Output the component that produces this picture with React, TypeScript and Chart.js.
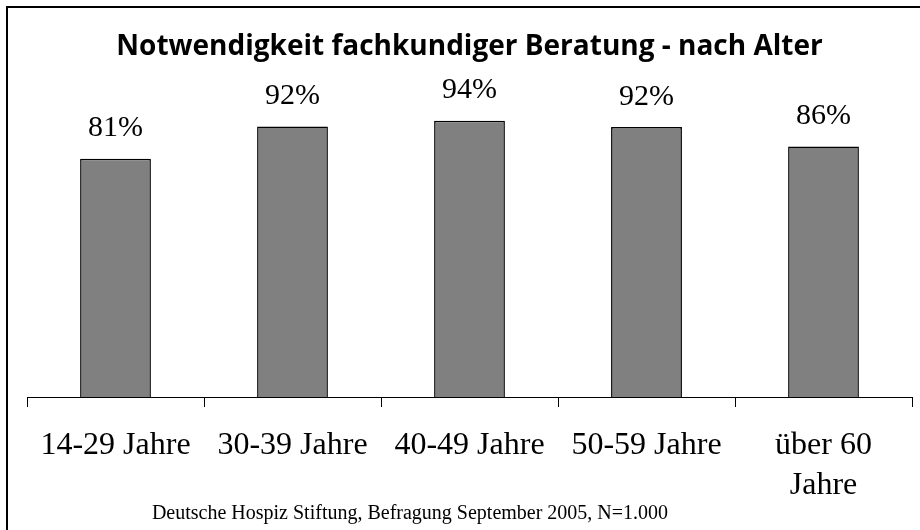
import React, { useEffect, useRef } from "react";
import { Chart, registerables } from "chart.js";

Chart.register(...registerables);

const categories: (string | string[])[] = ["14-29 Jahre", "30-39 Jahre", "40-49 Jahre", "50-59 Jahre", ["über 60", "Jahre"]];
const values: number[] = [81, 92, 94, 91.8, 85.2];
const valueLabels: string[] = ["81%", "92%", "94%", "92%", "86%"];
const titleText = "Notwendigkeit fachkundiger Beratung - nach Alter";
const sourceText = "Deutsche Hospiz Stiftung, Befragung September 2005, N=1.000";

const SERIF = "'Liberation Serif', 'DejaVu Serif', serif";

const framePlugin = {
  id: "frame",
  beforeDraw(chart: any) {
    const ctx = chart.ctx;
    ctx.save();
    ctx.fillStyle = "#ffffff";
    ctx.fillRect(0, 0, chart.width, chart.height);
    ctx.strokeStyle = "#000";
    ctx.lineWidth = 2;
    ctx.beginPath();
    ctx.moveTo(7, chart.height);
    ctx.lineTo(7, 7);
    ctx.lineTo(chart.width, 7);
    ctx.stroke();
    ctx.restore();
  },
};

const labelPlugin = {
  id: "valueLabels",
  afterDatasetsDraw(chart: any) {
    const ctx = chart.ctx;
    const meta = chart.getDatasetMeta(0);
    ctx.save();
    ctx.fillStyle = "#000";
    ctx.font = `30px ${SERIF}`;
    ctx.textAlign = "center";
    ctx.textBaseline = "alphabetic";
    meta.data.forEach((bar: any, i: number) => {
      ctx.fillText(valueLabels[i], bar.x, bar.y - 22.5);
    });
    ctx.font = `20px ${SERIF}`;
    ctx.fillText(sourceText, 410, 519);
    ctx.restore();
  },
};

export default function App() {
  const ref = useRef<HTMLCanvasElement | null>(null);
  useEffect(() => {
    if (!ref.current) return;
    const chart = new Chart(ref.current, {
      type: "bar",
      data: {
        labels: categories,
        datasets: [
          {
            data: values,
            backgroundColor: "#808080",
            borderColor: "#000000",
            borderWidth: 1.5,
            barPercentage: 0.4,
            categoryPercentage: 1,
          },
        ],
      },
      options: {
        animation: false,
        responsive: false,
        layout: { padding: { top: 0, left: 27, right: 8, bottom: 33 } },
        plugins: {
          legend: { display: false },
          tooltip: { enabled: false },
          title: {
            display: true,
            text: titleText,
            color: "#000",
            font: { family: "'Open Sans', sans-serif", weight: "bold", size: 28, lineHeight: 1.2 },
            padding: { top: 30, bottom: 39.4 },
          },
        },
        scales: {
          y: { display: false, min: 0, max: 100 },
          x: {
            offset: true,
            border: { display: true, color: "#000", width: 1 },
            grid: {
              display: true,
              offset: true,
              drawOnChartArea: false,
              drawTicks: true,
              tickLength: 10,
              color: "#000",
            },
            ticks: {
              color: "#000",
              maxRotation: 0,
              autoSkip: false,
              padding: 19,
              font: { family: SERIF, size: 32, lineHeight: 1.25 },
            },
            afterFit(scale: any) {
              scale.height = 100;
            },
          },
        },
      },
      plugins: [framePlugin, labelPlugin],
    });
    return () => chart.destroy();
  }, []);
  return (
    <div style={{ position: "fixed", left: 0, top: 0, width: 920, height: 530 }}>
      <canvas ref={ref} width={920} height={530} style={{ width: 920, height: 530 }} />
    </div>
  );
}
